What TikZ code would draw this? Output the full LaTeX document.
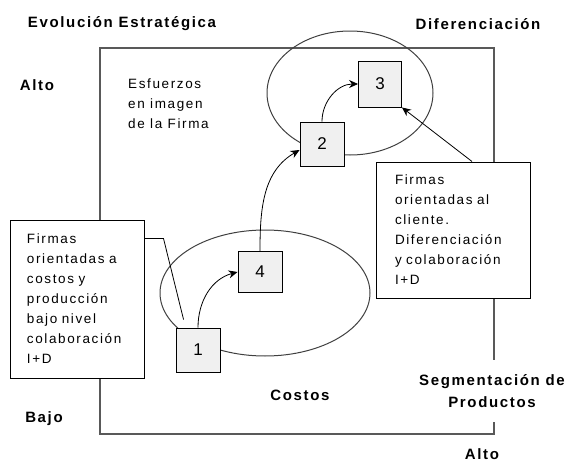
\documentclass[tikz,border=0pt]{standalone}
\usepackage{fontspec}
\setmainfont{Liberation Sans}
\newfontfamily\spacedfont[LetterSpace=12]{Liberation Sans}
\newfontfamily\labelfont[LetterSpace=11]{Liberation Sans}
\usetikzlibrary{arrows.meta}

\begin{document}
\begin{tikzpicture}[x=1pt,y=-1pt,>={Stealth[length=9pt,width=8pt]},
    num node/.style={draw,fill=gray!12,line width=0.9pt,minimum width=44pt,minimum height=44pt,inner sep=0pt,font=\fontsize{17}{20}\selectfont},
    text box/.style={draw,fill=white,line width=1pt,align=left,inner sep=0pt,font=\spacedfont\fontsize{13.5}{20}\selectfont},
    axis label/.style={font=\labelfont\bfseries\fontsize{15}{22}\selectfont,align=center,inner sep=1pt},
    plain text/.style={font=\spacedfont\fontsize{13.5}{20}\selectfont,align=left,inner sep=0pt},
    frame/.style={draw=black!65,line width=1.3pt},
    ring/.style={draw=black!75,line width=1pt}]
  \useasboundingbox (0,0) rectangle (574,463);
  % marco y zonas
  \draw[frame] (100,48) rectangle (494,434);
  \draw[ring] (265,293) ellipse [x radius=105pt, y radius=63pt];
  \draw[ring] (350,93) ellipse [x radius=83pt, y radius=62pt];
  % cuadros de texto
  \node[text box,text width=100pt,minimum width=134pt,minimum height=158pt] (lbox) at (77,299)
    {Firmas\\orientadas a\\costos y\\producción\\bajo nivel\\colaboración\\I+D};
  \node[text box,text width=116pt,minimum width=154pt,minimum height=136pt] (rbox) at (453,230)
    {Firmas\\orientadas al\\cliente.\\Diferenciación\\y colaboración\\I+D};
  % etapas
  \node[num node] (b1) at (198,350) {1};
  \node[num node,minimum height=41pt] (b4) at (260,272) {4};
  \node[num node] (b2) at (322,144) {2};
  \node[num node,minimum height=46pt,minimum width=43pt] (b3) at (380,84) {3};
  % etiquetas
  \node[axis label] (evol) at (122,24) {Evolución Estratégica};
  \node[axis label] (dif) at (478,24) {Diferenciación};
  \node[axis label] (altoy) at (37,85) {Alto};
  \node[axis label] (bajo) at (44,419) {Bajo};
  \node[axis label] (costos) at (300,395) {Costos};
  \node[axis label,fill=white,inner ysep=14pt] (segm) at (492,391) {Segmentación de\\Productos};
  \node[axis label] (altox) at (482,454) {Alto};
  \node[plain text,anchor=west] (esf) at (128,104) {Esfuerzos\\en imagen\\de la Firma};
  % flechas
  \draw[->,line width=0.8pt] (b1.north) to[out=90,in=195] (b4.west);
  \draw[->,line width=0.8pt] (b4.north) to[out=90,in=210] ([yshift=-6pt]b2.west);
  \draw[->,line width=0.8pt] (b2.north) to[out=90,in=180] (b3.west);
  \draw[->,line width=0.8pt] ([xshift=19pt]rbox.north) -- (b3.south east);
  \draw[line width=0.8pt] ([yshift=-19pt]lbox.north east) -- ++(19,0) -- ([xshift=8pt,yshift=8pt]b1.north west);
\end{tikzpicture}
\end{document}
